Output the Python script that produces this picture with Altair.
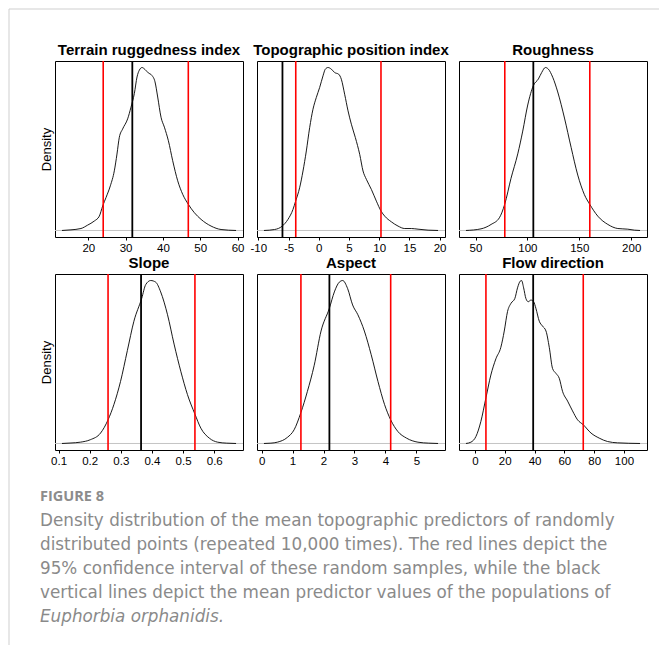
import altair as alt
import pandas as pd

# ---------------- data ----------------
titles = ["Terrain ruggedness index", "Topographic position index", "Roughness",
          "Slope", "Aspect", "Flow direction"]

tri_x = [12.95, 15.36, 18.04, 19.83, 21.62, 22.96, 23.85, 24.75, 25.91, 26.98, 27.69, 28.32,
         29.21, 30.55, 31.45, 32.34, 33.06, 33.68, 34.40, 35.20, 36.09, 36.99, 37.88, 38.60,
         39.49, 40.39, 41.46, 42.62, 43.96, 45.30, 46.82, 48.43, 50.22, 52.90, 55.57, 59.59]
tri_y = [0.0, 0.004, 0.012, 0.033, 0.058, 0.088, 0.150, 0.202, 0.274, 0.366, 0.469, 0.572,
         0.623, 0.685, 0.757, 0.840, 0.942, 0.984, 1.0, 0.988, 0.967, 0.953, 0.912, 0.819,
         0.695, 0.634, 0.551, 0.428, 0.305, 0.222, 0.160, 0.109, 0.068, 0.027, 0.006, 0.0]

tpi_x = [-9.06, -7.30, -6.03, -5.09, -4.26, -3.82, -3.16, -2.60, -2.05, -1.50, -0.95, -0.40,
         0.15, 0.71, 1.09, 1.53, 2.09, 2.64, 3.30, 3.74, 4.29, 4.85, 5.40, 6.06, 6.78, 7.33,
         7.88, 8.71, 9.54, 10.31, 10.92, 12.02, 13.12, 14.23, 15.33, 16.43, 18.09, 19.74]
tpi_y = [0.0, 0.006, 0.027, 0.068, 0.129, 0.180, 0.262, 0.365, 0.488, 0.631, 0.744, 0.816,
         0.877, 0.949, 0.990, 1.0, 0.990, 0.969, 0.959, 0.928, 0.836, 0.734, 0.652, 0.570,
         0.467, 0.365, 0.314, 0.252, 0.180, 0.119, 0.088, 0.053, 0.027, 0.012, 0.012, 0.008,
         0.002, 0.0]

rough_x = [40.8, 55.3, 65.0, 73.0, 78.1, 84.2, 90.7, 95.5, 100.3, 105.8, 110.6, 113.8, 117.3,
           120.2, 124.4, 129.2, 135.7, 142.1, 148.5, 154.9, 160.1, 167.8, 177.5, 187.1, 196.7,
           203.1, 208.5]
rough_y = [0.0, 0.01, 0.037, 0.078, 0.16, 0.32, 0.47, 0.61, 0.77, 0.89, 0.93, 0.97, 1.0,
           0.99, 0.94, 0.85, 0.69, 0.51, 0.34, 0.22, 0.16, 0.088, 0.037, 0.012, 0.008,
           0.002, 0.0]

slope_x = [0.111, 0.140, 0.170, 0.202, 0.235, 0.259, 0.278, 0.299, 0.321, 0.342, 0.367, 0.380,
           0.396, 0.412, 0.428, 0.450, 0.471, 0.493, 0.514, 0.538, 0.557, 0.584, 0.611, 0.640,
           0.670]
slope_y = [0.0, 0.003, 0.008, 0.023, 0.064, 0.145, 0.24, 0.38, 0.57, 0.75, 0.89, 0.975, 1.0,
           0.99, 0.93, 0.79, 0.61, 0.44, 0.30, 0.18, 0.094, 0.033, 0.008, 0.002, 0.0]

aspect_x = [0.076, 0.30, 0.51, 0.83, 1.05, 1.27, 1.48, 1.70, 1.92, 2.19, 2.35, 2.51, 2.62,
            2.78, 2.94, 3.11, 3.32, 3.54, 3.76, 3.97, 4.17, 4.40, 4.68, 5.05, 5.40, 5.70]
aspect_y = [0.0, 0.002, 0.008, 0.037, 0.084, 0.19, 0.32, 0.48, 0.69, 0.83, 0.93, 0.99, 1.0,
            0.95, 0.85, 0.79, 0.69, 0.545, 0.38, 0.24, 0.145, 0.074, 0.033, 0.008, 0.002, 0.0]

flow_x = [-6.0, -2.7, 0.7, 4.0, 7.4, 10.7, 14.1, 17.4, 19.7, 21.9, 24.2, 26.8, 28.6, 30.4,
          31.3, 32.7, 34.2, 35.8, 37.6, 39.4, 40.9, 43.2, 45.4, 47.7, 49.9, 52.1, 54.4, 56.6,
          58.8, 62.2, 65.5, 68.9, 72.7, 77.9, 83.4, 89.0, 95.7, 110.8]
flow_y = [0.0, 0.008, 0.043, 0.135, 0.28, 0.42, 0.52, 0.59, 0.69, 0.81, 0.86, 0.89, 0.955,
          0.996, 1.0, 0.955, 0.89, 0.87, 0.88, 0.87, 0.83, 0.75, 0.72, 0.69, 0.59, 0.46, 0.43,
          0.40, 0.32, 0.26, 0.20, 0.145, 0.115, 0.064, 0.033, 0.012, 0.004, 0.0]

curves_x = [tri_x, tpi_x, rough_x, slope_x, aspect_x, flow_x]
curves_y = [tri_y, tpi_y, rough_y, slope_y, aspect_y, flow_y]

ci_low = [24.0, -3.8, 78.2, 0.259, 1.27, 7.4]
ci_high = [46.8, 10.3, 160.1, 0.538, 4.17, 72.7]
pop_mean = [31.8, -6.0, 105.7, 0.365, 2.19, 39.1]

tick_values = [
    [20, 30, 40, 50, 60],
    [-10, -5, 0, 5, 10, 15, 20],
    [50, 100, 150, 200],
    [0.1, 0.2, 0.3, 0.4, 0.5, 0.6],
    [0, 1, 2, 3, 4, 5],
    [0, 20, 40, 60, 80, 100],
]

caption_head = "FIGURE 8"
caption_lines = [
    "Density distribution of the mean topographic predictors of randomly",
    "distributed points (repeated 10,000 times). The red lines depict the",
    "95% confidence interval of these random samples, while the black",
    "vertical lines depict the mean predictor values of the populations of",
]
caption_species = "Euphorbia orphanidis."

# ---------------- styling / layout ----------------
FONT = "Liberation Sans"
CAP_FONT = "DejaVu Sans"
W, H = 188, 176
ROW_GAP, COL_GAP = 37, 14


def panel(i):
    xs, ys = curves_x[i], curves_y[i]
    span = max(xs) - min(xs)
    xdom = [min(xs) - 0.04 * span, max(xs) + 0.04 * span]
    ymax = max(ys)
    ydom = [-0.04 * ymax, 1.04 * ymax]
    xscale = alt.Scale(domain=xdom, nice=False, zero=False)
    yscale = alt.Scale(domain=ydom, nice=False, zero=False)

    xaxis = alt.Axis(values=tick_values[i], title=None, labelExpr="toString(datum.value)",
                     ticks=True, tickSize=3, tickColor="black", tickWidth=1,
                     domain=False, grid=False, labelFont=FONT, labelFontSize=11.5,
                     labelColor="black", labelPadding=2, labelOverlap=False,
                     labelFlush=False, labelBound=False)
    if i % 3 == 0:
        yaxis = alt.Axis(title="Density", labels=False, ticks=False, domain=False, grid=False,
                         titleFont=FONT, titleFontSize=13, titleFontWeight="normal",
                         titleColor="black", titlePadding=2)
    else:
        yaxis = None

    curve_df = pd.DataFrame({"x": xs, "y": ys})
    red_df = pd.DataFrame({"x": [ci_low[i], ci_high[i]]})
    mean_df = pd.DataFrame({"x": [pop_mean[i]]})

    def yenc():
        if yaxis is None:
            return alt.Y("y:Q", scale=yscale, axis=None)
        return alt.Y("y:Q", scale=yscale, axis=yaxis)

    def yzero():
        if yaxis is None:
            return alt.Y(datum=0, scale=yscale, axis=None)
        return alt.Y(datum=0, scale=yscale, axis=yaxis)

    zero_line = alt.Chart(curve_df).mark_rule(color="#c4c4c4", strokeWidth=1).encode(
        y=yzero()
    ).transform_filter("datum.y == 0 && datum.x == " + str(xs[0]))
    curve = alt.Chart(curve_df).mark_line(color="black", strokeWidth=0.9,
                                          interpolate="monotone").encode(
        x=alt.X("x:Q", scale=xscale, axis=xaxis),
        y=yenc(),
    )
    red = alt.Chart(red_df).mark_rule(color="#ff0000", strokeWidth=1.6).encode(
        x=alt.X("x:Q", scale=xscale, axis=xaxis)
    )
    mean = alt.Chart(mean_df).mark_rule(color="black", strokeWidth=1.8).encode(
        x=alt.X("x:Q", scale=xscale, axis=xaxis)
    )
    return alt.layer(zero_line, curve, red, mean).properties(
        width=W, height=H,
        title=alt.TitleParams(titles[i], font=FONT, fontSize=15, fontWeight="bold",
                              color="black", anchor="middle", offset=5, dy=14.5,
                              baseline="alphabetic"),
        view=alt.ViewBackground(stroke="black", strokeWidth=1),
    )


panels = [panel(i) for i in range(6)]

# caption block (third row, first column; text overflows to the right)
LINE = 24
cap_scale = alt.Scale(domain=[-10 / LINE, (H - 10) / LINE], reverse=True, nice=False, zero=False)
head_df = pd.DataFrame({"text": [caption_head], "row": [0]})
body_df = pd.DataFrame({"text": caption_lines, "row": list(range(1, len(caption_lines) + 1))})
sp_df = pd.DataFrame({"text": [caption_species], "row": [len(caption_lines) + 1]})

cap_head = alt.Chart(head_df).mark_text(align="left", baseline="middle", font="Open Sans",
                                         fontSize=14.5, fontWeight="bold", color="#8c8c8c").encode(
    x=alt.value(-15), y=alt.Y("row:Q", scale=cap_scale, axis=None), text="text:N")
cap_body = alt.Chart(body_df).mark_text(align="left", baseline="middle", font=CAP_FONT,
                                         fontSize=16.8, color="#8a8a8a").encode(
    x=alt.value(-15), y=alt.Y("row:Q", scale=cap_scale, axis=None), text="text:N")
cap_sp = alt.Chart(sp_df).mark_text(align="left", baseline="middle", font=CAP_FONT,
                                     fontSize=16.8, fontStyle="italic", color="#8a8a8a").encode(
    x=alt.value(-15), y=alt.Y("row:Q", scale=cap_scale, axis=None), text="text:N")

# light frame around the figure (top and left edges)
frame_df = pd.DataFrame({"k": [0]})
frame_top = alt.Chart(frame_df).mark_rule(color="#cfcfcf", strokeWidth=1).encode(
    x=alt.value(-46), x2=alt.value(604), y=alt.value(-478))
frame_left = alt.Chart(frame_df).mark_rule(color="#cfcfcf", strokeWidth=1).encode(
    x=alt.value(-46), y=alt.value(-478), y2=alt.value(158))

caption = alt.layer(frame_top, frame_left, cap_head, cap_body, cap_sp).properties(
    width=W, height=H, view=alt.ViewBackground(stroke="transparent"))

chart = alt.concat(*panels, caption, columns=3,
                   spacing={"row": ROW_GAP, "column": COL_GAP},
                   bounds="flush").properties(
    padding={"left": 8, "top": 8, "right": 0, "bottom": 0},
    background="white",
).configure(font=FONT)

chart.save("out.html", embed_options={"renderer": "svg", "actions": False})
